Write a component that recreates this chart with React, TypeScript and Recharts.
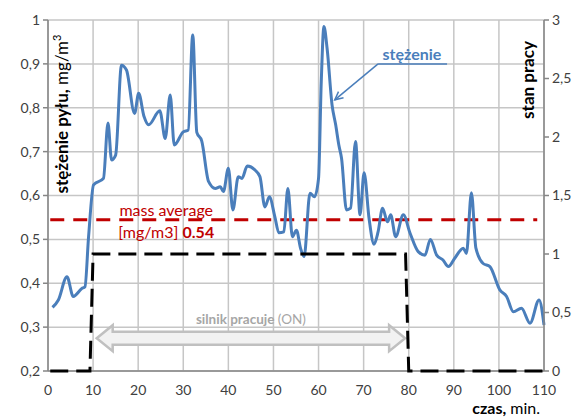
import React from 'react';
import { LineChart, Line, XAxis, YAxis, CartesianGrid, ReferenceLine } from 'recharts';

// dust concentration (mg/m3) vs time (min)
const dustTimes = [1.0, 2.3, 4.2, 5.6, 7.5, 8.2, 9.0, 10.1, 12.3, 13.3, 14.1, 15.0, 16.3, 17.4, 19.2, 20.1, 21.3, 22.3, 24.8, 26.0, 27.1, 28.0, 30.0, 31.1, 32.1, 33.0, 34.1, 35.6, 37.1, 38.2, 38.9, 40.0, 41.0, 42.2, 43.0, 44.2, 45.9, 47.0, 48.1, 49.1, 50.3, 51.2, 52.3, 53.2, 54.2, 55.1, 56.0, 56.8, 58.1, 59.1, 60.0, 60.6, 61.2, 61.9, 63.0, 63.8, 64.5, 65.1, 66.2, 67.1, 68.2, 69.2, 70.1, 71.2, 72.3, 73.2, 74.2, 75.3, 76.0, 77.1, 78.8, 80.3, 82.1, 83.6, 84.8, 86.2, 87.6, 88.8, 90.2, 92.1, 92.8, 93.9, 94.9, 96.5, 98.0, 100.2, 101.7, 103.2, 105.0, 106.9, 108.9, 110.0];
const dustValues = [0.345, 0.362, 0.415, 0.37, 0.388, 0.392, 0.506, 0.624, 0.639, 0.765, 0.681, 0.692, 0.897, 0.886, 0.787, 0.833, 0.78, 0.761, 0.793, 0.73, 0.829, 0.715, 0.745, 0.749, 0.966, 0.744, 0.724, 0.632, 0.616, 0.62, 0.609, 0.662, 0.567, 0.643, 0.639, 0.667, 0.658, 0.643, 0.574, 0.597, 0.552, 0.515, 0.517, 0.616, 0.506, 0.521, 0.48, 0.461, 0.605, 0.597, 0.639, 0.859, 0.985, 0.935, 0.806, 0.761, 0.715, 0.685, 0.567, 0.571, 0.723, 0.556, 0.652, 0.548, 0.489, 0.517, 0.571, 0.54, 0.556, 0.506, 0.556, 0.514, 0.472, 0.464, 0.5, 0.464, 0.453, 0.438, 0.457, 0.48, 0.468, 0.606, 0.48, 0.445, 0.438, 0.385, 0.37, 0.335, 0.343, 0.309, 0.362, 0.305];

// engine state (0 = off, 1 = on)
const stateTimes = [0.5, 9.3, 10, 79.3, 80, 110];
const stateValues = [0, 0, 1, 1, 0, 0];

const xTicks = [0, 10, 20, 30, 40, 50, 60, 70, 80, 90, 100, 110];
const leftTicks = [0.2, 0.3, 0.4, 0.5, 0.6, 0.7, 0.8, 0.9, 1];
const rightTicks = [0, 0.5, 1, 1.5, 2, 2.5, 3];

const massAverage = 0.545;
const massAverageText = '0.54';
const averageSpan = [0.5, 108.5];
const engineOnSpan = [10.8, 79.2];
const engineArrowLevel = 0.28;
const calloutTip = { t: 63.6, v: 0.818 };
const calloutStart = { t: 73.2, v: 0.9 };

const dustData = dustTimes.map((t, i) => ({ t, v: dustValues[i] }));
const stateData = stateTimes.map((t, i) => ({ t, s: stateValues[i] }));

const FONT = 'Lato, "Open Sans", sans-serif';
const BLUE = '#4a7ebb';
const RED = '#c00000';
const comma = (v: number) => String(v).replace('.', ',');

const AverageShape = (p: any) => {
  const { x1, y1, x2, y2 } = p;
  if (x1 == null) return null;
  const cx = x1 + 116;
  return (
    <g>
      <line x1={x1} y1={y1} x2={x2} y2={y2} stroke={RED} strokeWidth={3} strokeDasharray="14 9" />
      <text x={cx} y={y1 - 4} textAnchor="middle" fill={RED} fontSize={16} fontFamily={FONT}>mass average</text>
      <text x={cx} y={y1 + 18} textAnchor="middle" fill={RED} fontSize={16} fontFamily={FONT}>
        [mg/m3] <tspan fontWeight="bold">{massAverageText}</tspan>
      </text>
    </g>
  );
};

const EngineArrowShape = (p: any) => {
  const { x1, y1, x2 } = p;
  if (x1 == null) return null;
  const y = y1;
  const hw = 13, bh = 6.5, hl = 16;
  const pts = [
    [x1, y], [x1 + hl, y - hw], [x1 + hl, y - bh], [x2 - hl, y - bh], [x2 - hl, y - hw],
    [x2, y], [x2 - hl, y + hw], [x2 - hl, y + bh], [x1 + hl, y + bh], [x1 + hl, y + hw],
  ].map((q) => q.join(',')).join(' ');
  return (
    <g>
      <polygon points={pts} fill="#f2f2f2" stroke="#c0c0c0" strokeWidth={2.5} strokeLinejoin="miter" />
      <text x={(x1 + x2) / 2} y={y - 14} textAnchor="middle" fill="#a6a6a6" fontSize={13.5} fontFamily={FONT}>
        <tspan fontWeight="bold">silnik pracuje</tspan> (ON)
      </text>
    </g>
  );
};

const CalloutShape = (p: any) => {
  const { x1, y1, x2, y2 } = p;
  if (x1 == null) return null;
  const ang = Math.atan2(y1 - y2, x1 - x2);
  const L = 9, W = 0.45;
  const a1 = [x1 - L * Math.cos(ang - W), y1 - L * Math.sin(ang - W)];
  const a2 = [x1 - L * Math.cos(ang + W), y1 - L * Math.sin(ang + W)];
  return (
    <g>
      <line x1={x2} y1={y2} x2={x1} y2={y1} stroke={BLUE} strokeWidth={1.5} />
      <polyline points={`${a1[0]},${a1[1]} ${x1},${y1} ${a2[0]},${a2[1]}`} fill="none" stroke={BLUE} strokeWidth={1.5} />
      <line x1={x2} y1={y2} x2={x2 + 69} y2={y2} stroke={BLUE} strokeWidth={1.5} />
      <text x={x2 + 4.5} y={y2 - 4} fill={BLUE} fontSize={16} fontWeight="bold" fontFamily={FONT}>stężenie</text>
    </g>
  );
};

const tickStyle = { fill: '#404040', fontSize: 14, fontFamily: FONT };

export default function App() {
  return (
    <div style={{ position: 'absolute', left: 0, top: 0, width: 583, height: 418, background: '#fff' }}>
      <LineChart width={583} height={418} margin={{ top: 20, right: 0, bottom: 0, left: 0 }}>
        <CartesianGrid yAxisId="left" stroke="#c6c6c6" strokeWidth={1.5} />
        <XAxis
          dataKey="t"
          type="number"
          domain={[0, 110]}
          ticks={xTicks}
          height={47}
          tickSize={5}
          tickMargin={9}
          tickLine={false}
          stroke="#868686"
          strokeWidth={1.5}
          tick={tickStyle}
        />
        <YAxis
          yAxisId="left"
          domain={[0.2, 1]}
          ticks={leftTicks}
          width={48}
          tickSize={5}
          tickMargin={3}
          tickFormatter={comma}
          stroke="#868686"
          strokeWidth={1.5}
          tick={tickStyle}
        />
        <YAxis
          yAxisId="right"
          orientation="right"
          domain={[0, 3]}
          ticks={rightTicks}
          width={39}
          tickSize={5}
          tickMargin={3}
          tickFormatter={comma}
          stroke="#868686"
          strokeWidth={1.5}
          tick={tickStyle}
        />
        <ReferenceLine
          yAxisId="right"
          segment={[{ x: engineOnSpan[0], y: engineArrowLevel }, { x: engineOnSpan[1], y: engineArrowLevel }]}
          shape={EngineArrowShape}
        />
        <Line
          yAxisId="right"
          data={stateData}
          dataKey="s"
          type="linear"
          stroke="#000"
          strokeWidth={3}
          strokeDasharray="18 8"
          dot={false}
          activeDot={false}
          isAnimationActive={false}
          {...({ zIndex: 700 } as any)}
        />
        <ReferenceLine
          yAxisId="left"
          segment={[{ x: averageSpan[0], y: massAverage }, { x: averageSpan[1], y: massAverage }]}
          shape={AverageShape}
        />
        <Line
          yAxisId="left"
          data={dustData}
          dataKey="v"
          type="monotone"
          stroke={BLUE}
          strokeWidth={3}
          dot={false}
          activeDot={false}
          isAnimationActive={false}
        />
        <ReferenceLine
          yAxisId="left"
          segment={[{ x: calloutTip.t, y: calloutTip.v }, { x: calloutStart.t, y: calloutStart.v }]}
          shape={CalloutShape}
        />
      </LineChart>
      <svg width={583} height={418} style={{ position: 'absolute', left: 0, top: 0, pointerEvents: 'none' }}>
        <text transform="translate(68,114) rotate(-90)" textAnchor="middle" fontSize={17} fontFamily={FONT} fill="#000">
          <tspan fontWeight="bold">stężenie pyłu,</tspan> mg/m<tspan fontSize={11} dy={-7}>3</tspan>
        </text>
        <text transform="translate(534,80) rotate(-90)" textAnchor="middle" fontSize={17} fontWeight="bold" fontFamily={FONT} fill="#000">
          stan pracy
        </text>
        <text x={540} y={414} textAnchor="end" fontSize={16} fontFamily={FONT} fill="#000">
          <tspan fontWeight="bold">czas,</tspan> min.
        </text>
      </svg>
    </div>
  );
}
